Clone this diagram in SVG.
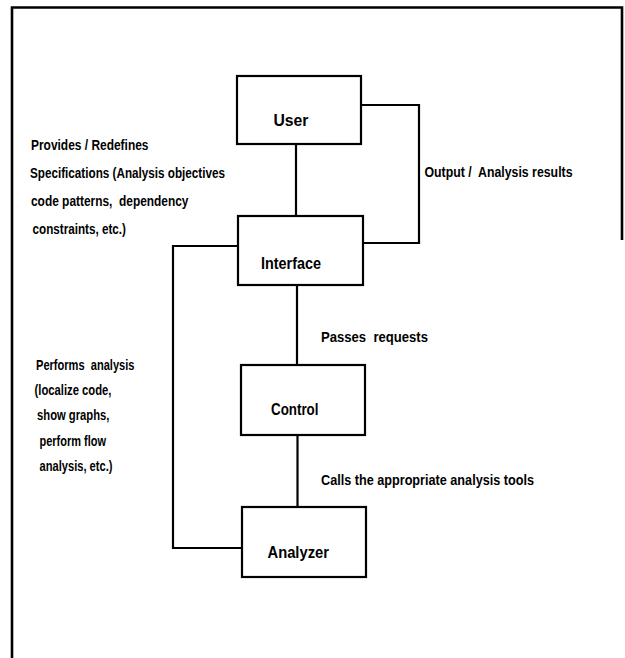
<svg xmlns="http://www.w3.org/2000/svg" width="625" height="658" viewBox="0 0 625 658">
<style>
  .box { fill: #fff; stroke: #000; stroke-width: 2.2; }
  .wire { fill: none; stroke: #000; stroke-width: 2.2; stroke-linejoin: miter; }
  .frame { fill: none; stroke: #000; stroke-width: 2.6; }
  .node { font-family: "Liberation Sans", Arial, sans-serif; font-size: 17px; font-weight: bold; fill: #000; }
  .lbl { font-family: "Liberation Sans", Arial, sans-serif; font-size: 15.5px; font-weight: bold; fill: #000; }
</style>
<rect width="625" height="658" fill="#fff"/>
<g id="frame">
  <path class="frame" d="M12,658 L12,7.5 L622,7.5 L622,240"/>
</g>
<g id="connectors">
  <path class="wire" d="M296,144 L296,216"/>
  <path class="wire" d="M361,105 L419,105 L419,243 L363,243"/>
  <path class="wire" d="M297,285 L297,365"/>
  <path class="wire" d="M297.5,435 L297.5,507"/>
  <path class="wire" d="M238,246 L173,246 L173,548 L242,548"/>
</g>
<g id="user">
  <rect class="box" x="237" y="76" width="124" height="68"/>
  <text class="node" x="273.5" y="125.5" textLength="35" lengthAdjust="spacingAndGlyphs">User</text>
</g>
<g id="interface">
  <rect class="box" x="238" y="216" width="125" height="69"/>
  <text class="node" x="261" y="268.5" textLength="60" lengthAdjust="spacingAndGlyphs">Interface</text>
</g>
<g id="control">
  <rect class="box" x="241" y="365" width="124" height="70"/>
  <text class="node" x="271" y="415" textLength="47.5" lengthAdjust="spacingAndGlyphs">Control</text>
</g>
<g id="analyzer">
  <rect class="box" x="242" y="507" width="124" height="70"/>
  <text class="node" x="267.5" y="557.5" textLength="61.5" lengthAdjust="spacingAndGlyphs">Analyzer</text>
</g>
<g id="labels">
  <text class="lbl" x="31" y="150" textLength="117.5" lengthAdjust="spacingAndGlyphs">Provides / Redefines</text>
  <text class="lbl" x="30" y="177.5" textLength="195" lengthAdjust="spacingAndGlyphs">Specifications (Analysis objectives</text>
  <text class="lbl" x="31" y="206" textLength="157.5" lengthAdjust="spacingAndGlyphs" xml:space="preserve">code patterns,  dependency</text>
  <text class="lbl" x="32.5" y="233.5" textLength="93.5" lengthAdjust="spacingAndGlyphs">constraints, etc.)</text>
  <text class="lbl" x="424.5" y="176.5" textLength="148" lengthAdjust="spacingAndGlyphs" xml:space="preserve">Output /  Analysis results</text>
  <text class="lbl" x="321" y="341.5" textLength="107" lengthAdjust="spacingAndGlyphs" xml:space="preserve">Passes  requests</text>
  <text class="lbl" x="36" y="370" textLength="98.5" lengthAdjust="spacingAndGlyphs" xml:space="preserve">Performs  analysis</text>
  <text class="lbl" x="34.5" y="394.5" textLength="77" lengthAdjust="spacingAndGlyphs">(localize code,</text>
  <text class="lbl" x="37" y="419.5" textLength="72.5" lengthAdjust="spacingAndGlyphs">show graphs,</text>
  <text class="lbl" x="39.5" y="446" textLength="66.5" lengthAdjust="spacingAndGlyphs">perform flow</text>
  <text class="lbl" x="39.5" y="471" textLength="73" lengthAdjust="spacingAndGlyphs">analysis, etc.)</text>
  <text class="lbl" x="321" y="485" textLength="213" lengthAdjust="spacingAndGlyphs">Calls the appropriate analysis tools</text>
</g>
</svg>
